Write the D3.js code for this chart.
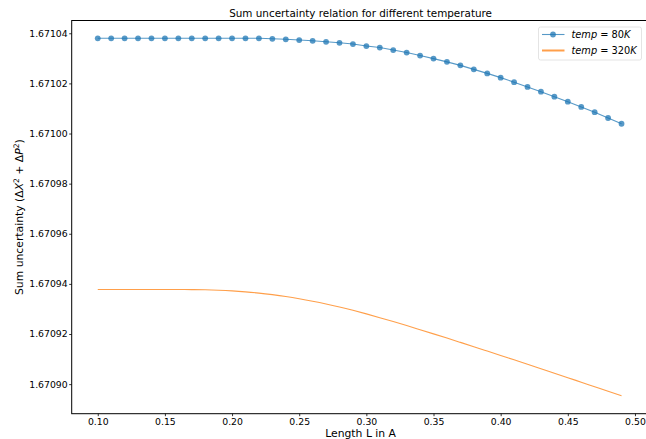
<!DOCTYPE html>
<html>
<head>
<meta charset="utf-8">
<script src="https://cdn.jsdelivr.net/npm/d3@7"></script>
<style>
  body { margin: 0; background: #fff; }
  svg { display: block; font-family: "DejaVu Sans", sans-serif; }
</style>
</head>
<body>
<svg id="chart"></svg>
<script>
// data
var lengths = [0.10, 0.11, 0.12, 0.13, 0.14, 0.15, 0.16, 0.17, 0.18, 0.19,
               0.20, 0.21, 0.22, 0.23, 0.24, 0.25, 0.26, 0.27, 0.28, 0.29,
               0.30, 0.31, 0.32, 0.33, 0.34, 0.35, 0.36, 0.37, 0.38, 0.39,
               0.40, 0.41, 0.42, 0.43, 0.44, 0.45, 0.46, 0.47, 0.48, 0.49];

var temp80 = [1.6710380, 1.6710380, 1.6710380, 1.6710380, 1.6710380, 1.6710380, 1.6710380, 1.6710380, 1.6710380, 1.6710380,
              1.6710380, 1.6710380, 1.6710380, 1.6710378, 1.6710376, 1.6710373, 1.6710370, 1.6710366, 1.6710362, 1.6710357,
              1.6710349, 1.6710343, 1.6710333, 1.6710323, 1.6710311, 1.6710299, 1.6710286, 1.6710272, 1.6710256, 1.6710240,
              1.6710223, 1.6710205, 1.6710186, 1.6710167, 1.6710147, 1.6710127, 1.6710106, 1.6710085, 1.6710062, 1.6710039];

var temp320 = [1.67093774, 1.67093774, 1.67093774, 1.67093774, 1.67093774, 1.67093774, 1.67093774, 1.67093772, 1.67093766, 1.67093749,
               1.67093722, 1.67093683, 1.67093633, 1.67093570, 1.67093496, 1.67093409, 1.67093310, 1.67093200, 1.67093078, 1.67092945,
               1.67092803, 1.67092652, 1.67092496, 1.67092336, 1.67092171, 1.67092005, 1.67091837, 1.67091666, 1.67091494, 1.67091320,
               1.67091145, 1.67090969, 1.67090793, 1.67090614, 1.67090436, 1.67090258, 1.67090077, 1.67089897, 1.67089717, 1.67089534];

var xTicks = [0.10, 0.15, 0.20, 0.25, 0.30, 0.35, 0.40, 0.45, 0.50];
var yTicks = [1.67090, 1.67092, 1.67094, 1.67096, 1.67098, 1.67100, 1.67102, 1.67104];

var seriesNames = ["80", "320"];
var seriesColors = ["#1f77b4", "#ff7f0e"];

// set the dimensions and margins of the graph
var W = 646, H = 439;
var margin = {top: 20.5, right: -4, bottom: 25.3, left: 71.7};

var svg = d3.select("#chart").attr("width", W).attr("height", H);

// set the ranges (frame runs slightly past the right edge, as in the picture)
var x = d3.scaleLinear().domain([0.0806, 0.5112]).range([margin.left, W - margin.right]);
var y = d3.scaleLinear().domain([1.6708882, 1.6710451]).range([H - margin.bottom, margin.top]);

var pts80 = lengths.map(function(l, i) { return [l, temp80[i]]; });
var pts320 = lengths.map(function(l, i) { return [l, temp320[i]]; });

var line = d3.line()
    .curve(d3.curveMonotoneX)
    .x(function(d) { return x(d[0]); })
    .y(function(d) { return y(d[1]); });

// orange line
svg.append("path")
    .datum(pts320)
    .attr("d", line)
    .attr("fill", "none")
    .attr("stroke", seriesColors[1])
    .attr("stroke-opacity", 0.75)
    .attr("stroke-width", 1.1);

// blue line + markers
svg.append("path")
    .datum(pts80)
    .attr("d", d3.line().x(function(d) { return x(d[0]); }).y(function(d) { return y(d[1]); }))
    .attr("fill", "none")
    .attr("stroke", seriesColors[0])
    .attr("stroke-opacity", 0.75)
    .attr("stroke-width", 1.1);

svg.append("g").selectAll("circle")
    .data(pts80)
    .enter().append("circle")
    .attr("cx", function(d) { return x(d[0]); })
    .attr("cy", function(d) { return y(d[1]); })
    .attr("r", 2.9)
    .attr("fill", seriesColors[0])
    .attr("fill-opacity", 0.75);

// frame
svg.append("rect")
    .attr("x", margin.left).attr("y", margin.top)
    .attr("width", x.range()[1] - margin.left)
    .attr("height", y.range()[0] - margin.top)
    .attr("fill", "none").attr("stroke", "#000").attr("stroke-width", 1);

// add the X Axis
var gx = svg.append("g")
    .attr("transform", "translate(0," + y.range()[0] + ")")
    .call(d3.axisBottom(x).tickValues(xTicks).tickSizeInner(2.5).tickSizeOuter(0).tickPadding(2)
      .tickFormat(d3.format(".2f")));

// add the Y Axis
var gy = svg.append("g")
    .attr("transform", "translate(" + margin.left + ",0)")
    .call(d3.axisLeft(y).tickValues(yTicks).tickSizeInner(2.5).tickSizeOuter(0).tickPadding(1.5)
      .tickFormat(d3.format(".5f")));

[gx, gy].forEach(function(g) {
  g.select(".domain").remove();
  g.selectAll("text").attr("font-size", 9.3).attr("font-family", "DejaVu Sans").attr("fill", "#000");
  g.selectAll("line").attr("stroke", "#000").attr("stroke-width", 0.8);
});

// title and labels
svg.append("text")
    .attr("x", 360.6).attr("y", 16.5)
    .attr("text-anchor", "middle").attr("font-size", 10.4)
    .text("Sum uncertainty relation for different temperature");

svg.append("text")
    .attr("x", 360.6).attr("y", 436.5)
    .attr("text-anchor", "middle").attr("font-size", 10.8)
    .text("Length L in A");

var yl = svg.append("text")
    .attr("transform", "translate(23," + ((margin.top + y.range()[0]) / 2) + ") rotate(-90)")
    .attr("text-anchor", "middle").attr("font-size", 10.8);
yl.append("tspan").text("Sum uncertainty (\u0394");
yl.append("tspan").attr("font-style", "italic").text("X");
yl.append("tspan").attr("font-size", 7.6).attr("dy", -4).text("2");
yl.append("tspan").attr("dy", 4).text(" + \u0394");
yl.append("tspan").attr("font-style", "italic").text("P");
yl.append("tspan").attr("font-size", 7.6).attr("dy", -4).text("2");
yl.append("tspan").attr("dy", 4).text(")");

// legend
var lg = svg.append("g").attr("transform", "translate(538.5,27)");
lg.append("rect")
    .attr("width", 103).attr("height", 33).attr("rx", 2)
    .attr("fill", "#fff").attr("fill-opacity", 0.8)
    .attr("stroke", "#ddd").attr("stroke-width", 0.8);

seriesNames.forEach(function(name, i) {
  var row = lg.append("g").attr("transform", "translate(0," + (7.5 + i * 16) + ")");
  row.append("line")
      .attr("x1", 3.5).attr("x2", 26).attr("y1", 0).attr("y2", 0)
      .attr("stroke", seriesColors[i]).attr("stroke-opacity", 0.75)
      .attr("stroke-width", i === 0 ? 1.1 : 2);
  if (i === 0) {
    row.append("circle").attr("cx", 14.5).attr("cy", 0).attr("r", 2.9)
        .attr("fill", seriesColors[0]).attr("fill-opacity", 0.75);
  }
  var t = row.append("text").attr("x", 33).attr("y", 3.5).attr("font-size", 9.8);
  t.append("tspan").attr("font-style", "italic").text("temp");
  t.append("tspan").text(" = " + name);
  t.append("tspan").attr("font-style", "italic").text("K");
});
</script>
</body>
</html>
